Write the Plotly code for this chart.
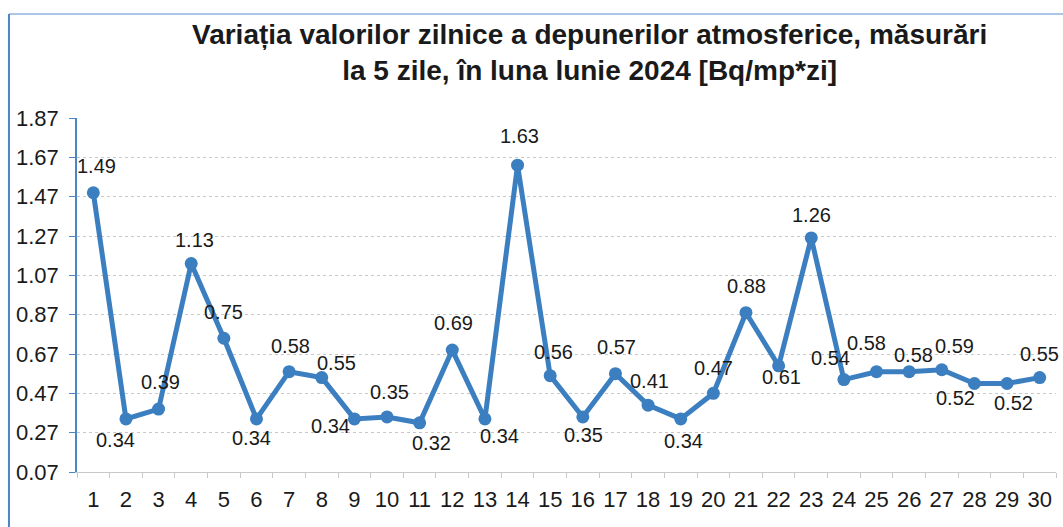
import plotly.graph_objects as go

days = [str(d) for d in range(1, 31)]
values = [1.49, 0.34, 0.39, 1.13, 0.75, 0.34, 0.58, 0.55, 0.34, 0.35,
          0.32, 0.69, 0.34, 1.63, 0.56, 0.35, 0.57, 0.41, 0.34, 0.47,
          0.88, 0.61, 1.26, 0.54, 0.58, 0.58, 0.59, 0.52, 0.52, 0.55]
labels = [f"{v:.2f}" for v in values]
y_ticks = [0.07, 0.27, 0.47, 0.67, 0.87, 1.07, 1.27, 1.47, 1.67, 1.87]

# label offsets (pixels) relative to each point, as placed in the source chart
label_dx = [3, -10, 2, 3, 0, -5, 1, 15, -24, 2,
            12, 1, 15, 2, 3, 1, 1, 1, 3, 0,
            1, 3, 0, -13, -10, 4, 13, -19, 6, 0]
label_dy = [27, -21, 27, 24, 26, -19, 26, 15, -7, 25,
            -20, 27, -17, 29, 24, -18, 27, 24, -22, 25,
            27, -11, 23, 22, 29, 17, 24, -14, -19, 24]

title_text = ("<b>Variația valorilor zilnice a depunerilor atmosferice, măsurări<br>"
              "la 5 zile, în luna lunie 2024 [Bq/mp*zi]</b>")

color = "#3b7fc0"
font_family = "Liberation Sans, Arial"

fig = go.Figure()
fig.add_trace(go.Scatter(
    x=days, y=values, mode="lines+markers",
    line=dict(color=color, width=5),
    marker=dict(color=color, size=13),
    cliponaxis=False, showlegend=False, hoverinfo="x+y",
))

# on a category axis, annotations are positioned by category index
for i, (v, t, dx, dy) in enumerate(zip(values, labels, label_dx, label_dy)):
    fig.add_annotation(
        x=i, y=v, text=t, showarrow=False, xanchor="center", yanchor="middle",
        xshift=dx, yshift=dy,
        font=dict(family=font_family, size=20, color="#1a1a1a"),
    )

fig.add_annotation(
    text=title_text, xref="paper", yref="paper", x=0.524, y=1.284,
    xanchor="center", yanchor="top", showarrow=False, align="center",
    font=dict(family=font_family, size=28, color="#1a1a1a"),
)

fig.update_layout(
    width=1063, height=527,
    paper_bgcolor="white", plot_bgcolor="white",
    margin=dict(l=77, r=7, t=118, b=55),
    font=dict(family=font_family, size=22, color="#1a1a1a"),
    xaxis=dict(type="category", range=[-0.5, 29.5], showgrid=False,
               showline=True, linecolor="#c8c8c8", linewidth=1,
               ticks="outside", tickson="boundaries", ticklen=5, tickcolor="#c8c8c8",
               ticklabelstandoff=8,
               tickangle=0, tickfont=dict(size=22), automargin=False, fixedrange=True),
    yaxis=dict(range=[0.07, 1.87], tickvals=y_ticks, ticktext=[f"{t:.2f}" for t in y_ticks],
               showgrid=True, gridcolor="#c8c8c8", griddash="dot", gridwidth=1,
               showline=True, linecolor="#4a86c5", linewidth=1.5,
               ticks="outside", ticklen=6, tickcolor="#4a86c5", ticklabelstandoff=6,
               tickfont=dict(size=22), zeroline=False, automargin=False, fixedrange=True),
    shapes=[
        dict(type="line", xref="paper", yref="paper", x0=-0.0695, x1=1.01, y0=1.294, y1=1.294,
             line=dict(color="#8fb5de", width=1.5)),
        dict(type="line", xref="paper", yref="paper", x0=-0.0695, x1=-0.0695, y0=-0.2, y1=1.294,
             line=dict(color="#4a86c5", width=2)),
    ],
)

fig.write_html("out.html", config={"displayModeBar": False},
               post_script="document.body.style.margin='0px';document.body.style.overflow='hidden';")
